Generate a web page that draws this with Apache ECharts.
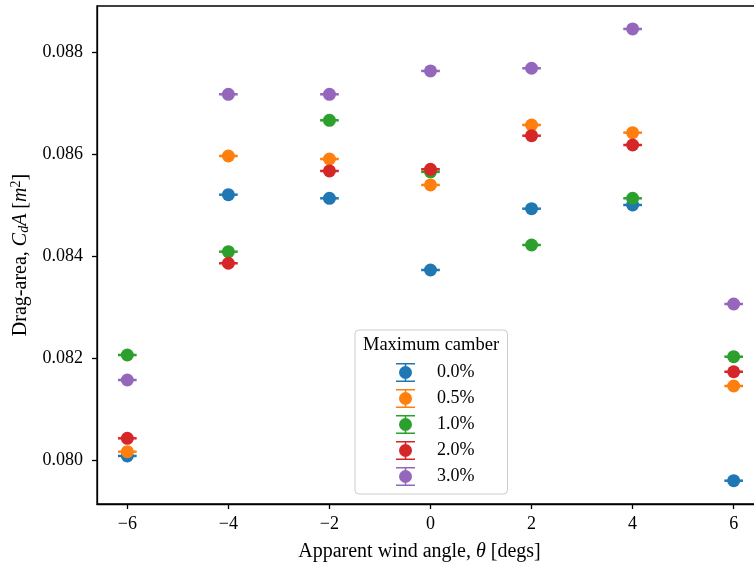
<!DOCTYPE html>
<html>
<head>
<meta charset="utf-8">
<script src="https://cdn.jsdelivr.net/npm/echarts@6/dist/echarts.min.js"></script>
<style>html,body{margin:0;padding:0;background:#fff}#c{width:754px;height:565px}</style>
</head>
<body>
<div id="c"></div>
<script>
const angles = [-6, -4, -2, 0, 2, 4, 6];
const cambers = ['0.0%', '0.5%', '1.0%', '2.0%', '3.0%'];
const colors = ['#1f77b4', '#ff7f0e', '#2ca02c', '#d62728', '#9467bd'];
const cd0 = [0.08008, 0.085211, 0.085140, 0.083732, 0.084936, 0.085009, 0.079594];
const cd05 = [0.080163, 0.085971, 0.085912, 0.085402, 0.086580, 0.086429, 0.081454];
const cd10 = [0.082062, 0.084092, 0.086672, 0.085660, 0.084223, 0.085140, 0.082029];
const cd20 = [0.080426, 0.083864, 0.085677, 0.085710, 0.086370, 0.086187, 0.081734];
const cd30 = [0.081571, 0.087183, 0.087183, 0.087641, 0.087694, 0.088466, 0.083064];
const errs = [0.00001, 0.00001, 0.00001, 0.00001, 0.00001, 0.00001, 0.00001];
const xTicks = [-6, -4, -2, 0, 2, 4, 6];
const yTicks = [0.080, 0.082, 0.084, 0.086, 0.088];
const allSeries = [cd0, cd05, cd10, cd20, cd30];

const FONT = 'Liberation Serif';
const chart = echarts.init(document.getElementById('c'));
const legendIcon = 'path://M0,0H190V15H0Z M87,15H103V175H87Z M0,175H190V190H0Z M95,30A65,65 0 1,1 95,160A65,65 0 1,1 95,30Z';

const series = [];
allSeries.forEach((vals, i) => {
  const pts = angles.map((a, j) => [a, vals[j], errs[j]]);
  series.push({
    name: cambers[i],
    type: 'custom',
    z: 2 + i * 2,
    silent: true,
    data: pts,
    renderItem: function (params, api) {
      const x = api.value(0), y = api.value(1), e = api.value(2);
      const lo = api.coord([x, y - e]);
      const hi = api.coord([x, y + e]);
      const hw = 9.3;
      const st = { stroke: colors[i], lineWidth: 1.5 };
      return {
        type: 'group',
        children: [
          { type: 'line', shape: { x1: lo[0], y1: lo[1], x2: hi[0], y2: hi[1] }, style: st },
          { type: 'line', shape: { x1: lo[0] - hw, y1: lo[1], x2: lo[0] + hw, y2: lo[1] }, style: st },
          { type: 'line', shape: { x1: hi[0] - hw, y1: hi[1], x2: hi[0] + hw, y2: hi[1] }, style: st }
        ]
      };
    },
    itemStyle: { color: colors[i] }
  });
  series.push({
    name: cambers[i],
    type: 'scatter',
    z: 3 + i * 2,
    symbol: 'circle',
    symbolSize: 13,
    data: pts.map(p => [p[0], p[1]]),
    itemStyle: { color: colors[i], opacity: 1 },
    emphasis: { disabled: true }
  });
});

const minus = s => String(s).replace('-', '\u2212');

chart.setOption({
  animation: false,
  backgroundColor: '#fff',
  grid: {
    left: 97, top: 6, right: -10, bottom: 61,
    outerBoundsMode: 'none', containLabel: false,
    show: true, borderColor: '#000', borderWidth: 1.3, backgroundColor: 'transparent'
  },
  xAxis: {
    type: 'value', min: -6.6, max: 6.6,
    name: '{t|Apparent wind angle, }{i|θ}{t| [degs]}',
    nameLocation: 'middle', nameGap: 38,
    nameTextStyle: {
      padding: [0, 22, 0, 0],
      rich: {
        t: { fontFamily: FONT, fontSize: 20, color: '#000' },
        i: { fontFamily: FONT, fontSize: 20, fontStyle: 'italic', color: '#000' }
      }
    },
    splitLine: { show: false },
    axisLine: { onZero: false, lineStyle: { color: '#000', width: 1.3 } },
    axisTick: { show: true, customValues: xTicks, length: 5, lineStyle: { color: '#000', width: 1.3 } },
    axisLabel: { customValues: xTicks, formatter: v => minus(v), fontFamily: FONT, fontSize: 18, color: '#000', margin: 11 }
  },
  yAxis: {
    type: 'value', min: 0.079136, max: 0.088917,
    name: '{t|Drag-area, }{i|C}{s|d}{i|A}{t| [}{i|m}{p|2}{t|]}',
    nameLocation: 'middle', nameGap: 57, nameRotate: 90,
    nameTextStyle: {
      rich: {
        t: { fontFamily: FONT, fontSize: 20, color: '#000' },
        i: { fontFamily: FONT, fontSize: 20, fontStyle: 'italic', color: '#000' },
        s: { fontFamily: FONT, fontSize: 14, fontStyle: 'italic', color: '#000', verticalAlign: 'bottom', padding: [8, 0, 0, 0] },
        p: { fontFamily: FONT, fontSize: 14, color: '#000', verticalAlign: 'top', padding: [0, 0, 8, 0] }
      }
    },
    splitLine: { show: false },
    axisLine: { show: true, onZero: false, lineStyle: { color: '#000', width: 1.3 } },
    axisTick: { show: true, customValues: yTicks, length: 5, lineStyle: { color: '#000', width: 1.3 } },
    axisLabel: { customValues: yTicks, formatter: v => v.toFixed(3), fontFamily: FONT, fontSize: 18, color: '#000', margin: 14 }
  },
  legend: {
    orient: 'vertical',
    left: 355, top: 330,
    padding: [33, 33, 8, 41],
    itemWidth: 19, itemHeight: 19, itemGap: 7,
    icon: legendIcon,
    borderColor: '#cccccc', borderWidth: 1, borderRadius: 4,
    backgroundColor: 'rgba(255,255,255,0.8)',
    selectedMode: false,
    data: cambers,
    textStyle: { fontFamily: FONT, fontSize: 18, color: '#000', padding: [0, 0, 0, 17] }
  },
  graphic: [{
    type: 'text', x: 431, y: 345, z: 100,
    style: { text: 'Maximum camber', font: '18.5px "Liberation Serif"', fill: '#000', textAlign: 'center', textVerticalAlign: 'middle' }
  }],
  series: series
});
</script>
</body>
</html>
